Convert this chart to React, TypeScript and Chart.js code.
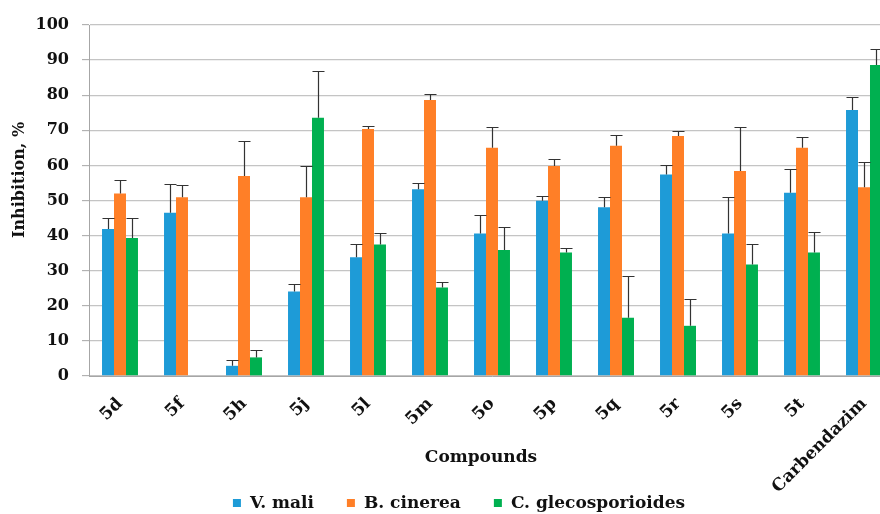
import React, { useEffect, useRef } from 'react';
import { Chart, registerables } from 'chart.js';

Chart.register(...registerables);

const categories = ['5d', '5f', '5h', '5j', '5l', '5m', '5o', '5p', '5q', '5r', '5s', '5t', 'Carbendazim'];
const seriesNames = ['V. mali', 'B. cinerea', 'C. glecosporioides'];

const vMali = [41.9, 46.5, 2.9, 24.1, 33.8, 53.2, 40.6, 49.9, 48.1, 57.4, 40.6, 52.2, 75.8];
const vMaliErr = [3.2, 8.2, 1.7, 2.1, 3.7, 1.7, 5.2, 1.3, 2.8, 2.7, 10.3, 6.9, 3.8];

const bCinerea = [52.0, 50.9, 57.0, 50.9, 70.4, 78.6, 65.0, 59.8, 65.6, 68.4, 58.4, 65.0, 53.8];
const bCinereaErr = [3.8, 3.4, 10.0, 8.8, 0.9, 1.6, 5.9, 1.9, 3.2, 1.3, 12.6, 3.2, 7.3];

const cGleco = [39.3, null, 5.3, 73.6, 37.5, 25.2, 35.9, 35.2, 16.6, 14.3, 31.8, 35.2, 88.6];
const cGlecoErr = [5.6, null, 2.0, 13.4, 3.1, 1.6, 6.5, 1.4, 11.8, 7.7, 5.9, 5.8, 4.7];

const yMin = 0;
const yMax = 100;
const yStep = 10;

const colors = ['#1E9BD7', '#FF7F27', '#00B050'];
const FONT = '"DejaVu Serif", serif';
const TEXT = '#111111';

const errorBarPlugin = {
  id: 'errorBars',
  afterDatasetsDraw(chart: any) {
    const ctx = chart.ctx;
    const yScale = chart.scales.y;
    ctx.save();
    ctx.strokeStyle = '#333333';
    ctx.lineWidth = 1.2;
    chart.data.datasets.forEach((ds: any, i: number) => {
      const meta = chart.getDatasetMeta(i);
      meta.data.forEach((bar: any, j: number) => {
        const v = ds.data[j];
        const e = ds.errors[j];
        if (v == null || e == null) return;
        const top = Math.round(yScale.getPixelForValue(v + e)) + 0.5;
        const x = Math.round(bar.x) + 0.5;
        ctx.beginPath();
        ctx.moveTo(x, bar.y);
        ctx.lineTo(x, top);
        ctx.moveTo(x - 6, top);
        ctx.lineTo(x + 6, top);
        ctx.stroke();
      });
    });
    ctx.restore();
  },
};

const textPlugin = {
  id: 'texts',
  afterDraw(chart: any) {
    const ctx = chart.ctx;
    ctx.save();
    ctx.fillStyle = TEXT;
    ctx.textBaseline = 'middle';

    // y title
    ctx.save();
    ctx.font = `bold 16px ${FONT}`;
    ctx.translate(20, 180);
    ctx.rotate(-Math.PI / 2);
    ctx.textAlign = 'center';
    ctx.fillText('Inhibition, %', 0, 0);
    ctx.restore();

    ctx.font = `bold 17px ${FONT}`;
    // x title
    ctx.textAlign = 'center';
    ctx.fillText('Compounds', 481, 458);

    // legend
    const box = 8;
    const gapBox = 9;
    const gapItem = 33;
    const widths = seriesNames.map((n) => ctx.measureText(n).width);
    const total = widths.reduce((a, w) => a + box + gapBox + w, 0) + gapItem * (seriesNames.length - 1);
    let x = 459 - total / 2;
    const cy = 503;
    ctx.textAlign = 'left';
    seriesNames.forEach((n, i) => {
      ctx.fillStyle = colors[i];
      ctx.fillRect(x, cy - box / 2, box, box);
      x += box + gapBox;
      ctx.fillStyle = TEXT;
      ctx.fillText(n, x, cy + 1);
      x += widths[i] + gapItem;
    });
    ctx.restore();
  },
};

export default function App() {
  const ref = useRef<HTMLCanvasElement>(null);

  useEffect(() => {
    document.body.style.margin = '0';
    const canvas = ref.current;
    if (!canvas) return;
    const series = [
      { data: vMali, errors: vMaliErr },
      { data: bCinerea, errors: bCinereaErr },
      { data: cGleco, errors: cGlecoErr },
    ];
    const chart = new Chart(canvas, {
      type: 'bar',
      data: {
        labels: categories,
        datasets: series.map((s, i) => ({
          label: seriesNames[i],
          data: s.data,
          errors: s.errors,
          backgroundColor: colors[i],
          borderWidth: 0,
          categoryPercentage: 0.58,
          barPercentage: 1,
        })) as any,
      },
      options: {
        animation: false,
        responsive: false,
        maintainAspectRatio: false,
        devicePixelRatio: 1,
        layout: { padding: { top: 25, right: 5, left: 0, bottom: 0 } },
        plugins: {
          legend: { display: false },
          tooltip: { enabled: false },
          title: { display: false },
        },
        scales: {
          x: {
            grid: { display: false, drawTicks: false },
            border: { display: true, color: '#A6A6A6', width: 1 },
            ticks: {
              autoSkip: false,
              maxRotation: 45,
              minRotation: 45,
              padding: 18,
              color: TEXT,
              font: { family: FONT, size: 17, weight: 'bold' },
            },
            afterFit(scale: any) {
              scale.height = 138;
            },
          },
          y: {
            min: yMin,
            max: yMax,
            ticks: {
              stepSize: yStep,
              padding: 13,
              color: TEXT,
              font: { family: FONT, size: 16, weight: 'bold' },
            },
            grid: {
              color: '#C4C4C4',
              lineWidth: 1.3,
              tickLength: 7,
              tickColor: '#A6A6A6',
              tickWidth: 1,
            },
            border: { display: true, color: '#A6A6A6', width: 1 },
            afterFit(scale: any) {
              scale.width = 89;
            },
          },
        },
      },
      plugins: [errorBarPlugin, textPlugin],
    });
    return () => chart.destroy();
  }, []);

  return (
    <div style={{ width: 880, height: 514, overflow: 'hidden', position: 'relative' }}>
      <canvas ref={ref} width={900} height={514} style={{ display: 'block' }} />
    </div>
  );
}
